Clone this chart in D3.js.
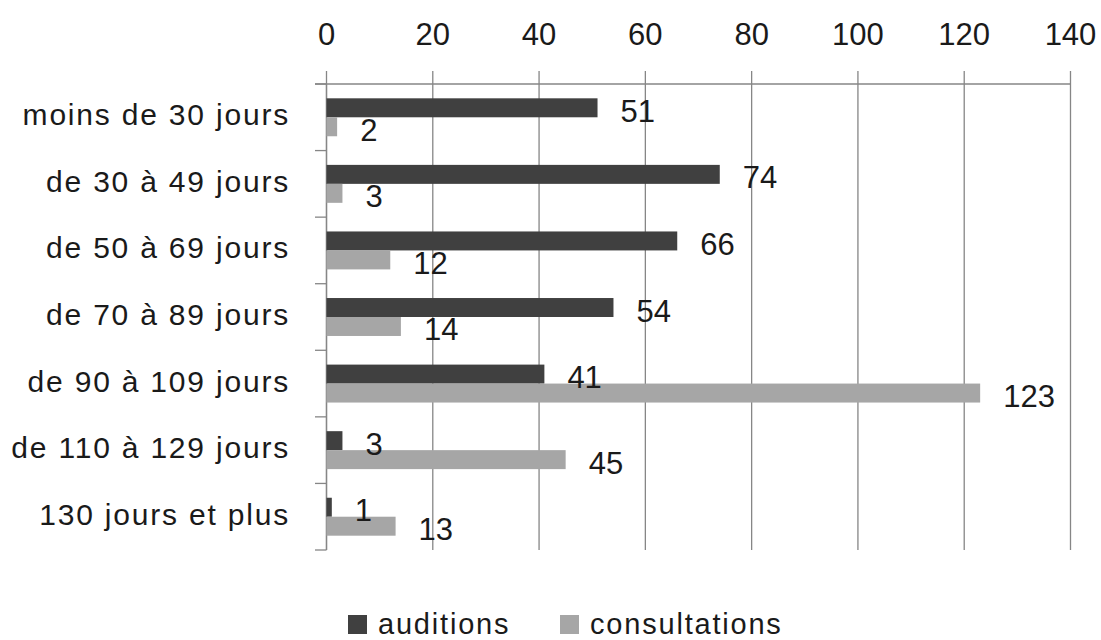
<!DOCTYPE html>
<html>
<head>
<meta charset="utf-8">
<script src="https://cdn.jsdelivr.net/npm/d3@7"></script>
<style>
  body { margin: 0; background: #fff; }
  svg text { font-family: "Liberation Sans", sans-serif; fill: #1a1a1a; }
</style>
</head>
<body>
<div id="chart"></div>
<script>
// données
const categories = ["moins de 30 jours", "de 30 à 49 jours", "de 50 à 69 jours", "de 70 à 89 jours",
                    "de 90 à 109 jours", "de 110 à 129 jours", "130 jours et plus"];
const auditions = [51, 74, 66, 54, 41, 3, 1];
const consultations = [2, 3, 12, 14, 123, 45, 13];
const seriesNames = ["auditions", "consultations"];
const tickValues = [0, 20, 40, 60, 80, 100, 120, 140];

const W = 1101, H = 640;
const colors = { auditions: "#404040", consultations: "#a6a6a6" };
const gridColor = "#868686";

const svg = d3.select("#chart").append("svg")
    .attr("width", W).attr("height", H);

const x = d3.scaleLinear().domain([0, 140]).range([326.5, 1070.5]);
const y = d3.scaleBand().domain(categories).range([84, 550]).paddingInner(0.43).paddingOuter(0.215);
const inner = d3.scaleBand().domain(seriesNames).range([0, y.bandwidth()]);

// grille verticale
svg.append("g").selectAll("line").data(tickValues).join("line")
    .attr("x1", d => x(d)).attr("x2", d => x(d))
    .attr("y1", 71).attr("y2", 550)
    .attr("stroke", gridColor).attr("stroke-width", 1.3);

// axe du haut
svg.append("line").attr("x1", 315).attr("x2", x(140)).attr("y1", 84).attr("y2", 84)
    .attr("stroke", gridColor).attr("stroke-width", 1.3);
svg.append("g").selectAll("text").data(tickValues).join("text")
    .attr("x", d => x(d)).attr("y", 45)
    .attr("text-anchor", "middle")
    .attr("font-size", 31)
    .text(d => d);

// axe vertical + graduations
const step = (550 - 84) / categories.length;
svg.append("line").attr("x1", x(0)).attr("x2", x(0)).attr("y1", 84).attr("y2", 550)
    .attr("stroke", gridColor).attr("stroke-width", 1.3);
svg.append("g").selectAll("line").data(d3.range(categories.length + 1)).join("line")
    .attr("x1", 315).attr("x2", x(0))
    .attr("y1", i => 84 + i * step).attr("y2", i => 84 + i * step)
    .attr("stroke", gridColor).attr("stroke-width", 1.3);

svg.append("g").selectAll("text").data(categories).join("text")
    .attr("x", 290).attr("y", d => y(d) + y.bandwidth() / 2 + 8)
    .attr("text-anchor", "end")
    .attr("font-size", 30)
    .attr("letter-spacing", 1.8)
    .text(d => d);

// barres
const rows = categories.map((c, i) => ({ cat: c, auditions: auditions[i], consultations: consultations[i] }));
const groups = svg.append("g").selectAll("g").data(rows).join("g")
    .attr("transform", d => `translate(0,${y(d.cat)})`);

groups.selectAll("rect").data(d => seriesNames.map(s => ({ s, v: d[s] }))).join("rect")
    .attr("x", x(0))
    .attr("y", d => inner(d.s))
    .attr("width", d => x(d.v) - x(0))
    .attr("height", inner.bandwidth())
    .attr("fill", d => colors[d.s]);

groups.selectAll("text").data(d => seriesNames.map(s => ({ s, v: d[s] }))).join("text")
    .attr("x", d => x(d.v) + 23)
    .attr("y", d => inner(d.s) + inner.bandwidth() / 2 + 14)
    .attr("font-size", 31)
    .text(d => d.v);

// légende
const legendX = [348, 560];
const lg = svg.append("g").selectAll("g").data(seriesNames).join("g")
    .attr("transform", (d, i) => `translate(${legendX[i]},615)`);
lg.append("rect").attr("width", 19).attr("height", 19).attr("fill", d => colors[d]);
lg.append("text").attr("x", 30).attr("y", 19).attr("font-size", 29)
    .attr("letter-spacing", 1.8).text(d => d);
</script>
</body>
</html>
